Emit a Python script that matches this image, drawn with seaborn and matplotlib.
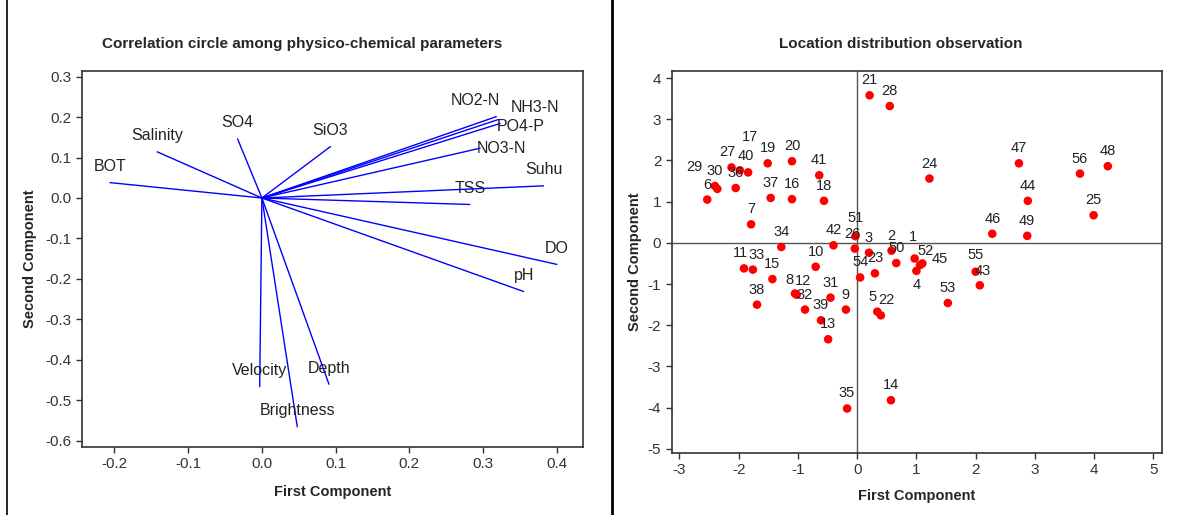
import pandas as pd
import seaborn as sns
import matplotlib.pyplot as plt
from matplotlib.lines import Line2D

# loadings (correlation circle)
params = ["BOT", "Salinity", "SO4", "SiO3", "NO2-N", "NH3-N", "PO4-P", "NO3-N",
          "Suhu", "TSS", "DO", "pH", "Velocity", "Brightness", "Depth"]
pc1_load = [-0.206, -0.142, -0.033, 0.093, 0.318, 0.321, 0.323, 0.296,
            0.382, 0.282, 0.400, 0.355, -0.003, 0.048, 0.091]
pc2_load = [0.038, 0.114, 0.146, 0.127, 0.201, 0.194, 0.184, 0.123,
            0.030, -0.016, -0.164, -0.231, -0.466, -0.565, -0.460]

# location scores
locs = list(range(1, 57))
score1 = [0.97, 0.58, 0.20, 1.00, 0.34, -2.53, -1.79, -1.05, -0.19, -0.70,
          -1.91, -1.02, -0.49, 0.57, -1.43, -1.10, -1.98, -0.56, -1.51, -1.10,
          0.21, 0.40, 0.30, 1.22, 3.99, -0.04, -2.12, 0.55, -2.36, -2.40,
          -0.45, -0.88, -1.76, -1.28, -0.17, -2.05, -1.46, -1.69, -0.61, -1.84,
          -0.64, -0.40, 2.07, 2.88, 1.10, 2.28, 2.73, 4.23, 2.87, 0.66,
          -0.03, 1.06, 1.53, 0.05, 2.00, 3.76]
score2 = [-0.38, -0.19, -0.24, -0.68, -1.67, 1.05, 0.45, -1.23, -1.62, -0.58,
          -0.62, -1.26, -2.34, -3.82, -0.88, 1.06, 1.76, 1.02, 1.93, 1.98,
          3.58, -1.76, -0.74, 1.56, 0.67, -0.14, 1.83, 3.32, 1.31, 1.38,
          -1.33, -1.62, -0.65, -0.10, -4.02, 1.33, 1.09, -1.50, -1.88, 1.71,
          1.64, -0.06, -1.03, 1.02, -0.50, 0.22, 1.93, 1.86, 0.17, -0.49,
          0.16, -0.54, -1.46, -0.84, -0.70, 1.68]

# label offsets in pixels (dx, dy) where the default does not apply
load_off = {"NO2-N": (-21, 16), "NH3-N": (36, 12), "PO4-P": (21, -3), "NO3-N": (21, 0)}
loc_off = {29: (-23, 22), 17: (10, 33), 40: (-2, 16), 27: (-4, 15), 4: (0, -14),
           45: (17, 4), 1: (-2, 22), 52: (6, 14), 8: (-6, 14), 12: (6, 14),
           5: (-5, 15), 22: (6, 15), 11: (-4, 15), 33: (4, 15), 55: (0, 17),
           43: (3, 14), 26: (-2, 15), 51: (0, 18)}

sns.set_style("ticks")
plt.rcParams["font.family"] = ["Liberation Sans", "DejaVu Sans"]
plt.rcParams["axes.unicode_minus"] = False
PX = 0.72  # points per pixel at dpi 100

fig = plt.figure(figsize=(11.78, 5.15), dpi=100)
ax1 = fig.add_axes([0.0696, 0.1320, 0.4253, 0.7301])
ax2 = fig.add_axes([0.5702, 0.1204, 0.4160, 0.7417])

# --- left: correlation circle ---
rows = []
for p, a, b in zip(params, pc1_load, pc2_load):
    rows.append({"var": p, "x": 0.0, "y": 0.0})
    rows.append({"var": p, "x": a, "y": b})
vec = pd.DataFrame(rows)
sns.lineplot(data=vec, x="x", y="y", units="var", estimator=None, sort=False,
             color="#0000ff", lw=1.0, ax=ax1)
for p, a, b in zip(params, pc1_load, pc2_load):
    dx, dy = load_off.get(p, (0, 16))
    ax1.annotate(p, (a, b), xytext=(dx * PX, dy * PX), textcoords="offset points",
                 ha="center", va="center", fontsize=11.5, color="#222222")
ax1.set_xlim(-0.244, 0.4355)
ax1.set_ylim(-0.615, 0.3136)
ax1.set_xticks([-0.2, -0.1, 0.0, 0.1, 0.2, 0.3, 0.4])
ax1.set_yticks([-0.6, -0.5, -0.4, -0.3, -0.2, -0.1, 0.0, 0.1, 0.2, 0.3])
ax1.set_yticklabels(["-0.6", "-0.5", "-0.4", "-0.3", "-0.2", "-0.1", "0.0", "0.1", "0.2", "0.3"])
fig.text(302 / 1178, 1 - 44 / 515, "Correlation circle among physico-chemical parameters",
         ha="center", va="center", fontsize=11, fontweight="bold")
ax1.set_xlabel("First Component", fontsize=10.5, fontweight="bold", labelpad=10)
ax1.set_ylabel("Second Component", fontsize=10.5, fontweight="bold", labelpad=6)

# --- right: score plot ---
sc = pd.DataFrame({"loc": locs, "PC1": score1, "PC2": score2})
ax2.axhline(0, color="#555555", lw=1.0, zorder=1)
ax2.axvline(0, color="#555555", lw=1.0, zorder=1)
sns.scatterplot(data=sc, x="PC1", y="PC2", color="#ff0000", s=38, edgecolor="none",
                zorder=3, ax=ax2)
for n, a, b in zip(locs, score1, score2):
    dx, dy = loc_off.get(n, (0, 15))
    ax2.annotate(str(n), (a, b), xytext=(dx * PX, dy * PX), textcoords="offset points",
                 ha="center", va="center", fontsize=10.5, color="#222222")
ax2.set_xlim(-3.13, 5.14)
ax2.set_ylim(-5.10, 4.17)
ax2.set_xticks(range(-3, 6))
ax2.set_yticks(range(-5, 5))
fig.text(901 / 1178, 1 - 44 / 515, "Location distribution observation",
         ha="center", va="center", fontsize=11, fontweight="bold")
ax2.set_xlabel("First Component", fontsize=10.5, fontweight="bold", labelpad=8)
ax2.set_ylabel("Second Component", fontsize=10.5, fontweight="bold", labelpad=4)

for ax in (ax1, ax2):
    for s in ax.spines.values():
        s.set_color("#333333")
        s.set_linewidth(1.2)
    ax.tick_params(labelsize=11, colors="#333333", length=4, width=1, labelcolor="#333333")

# panel frame lines
fig.add_artist(Line2D([7 / 1178, 7 / 1178], [0, 1], color="black", lw=1.2))
fig.add_artist(Line2D([612 / 1178, 612 / 1178], [0, 1], color="black", lw=2))

fig.savefig("out.png", dpi=100)
